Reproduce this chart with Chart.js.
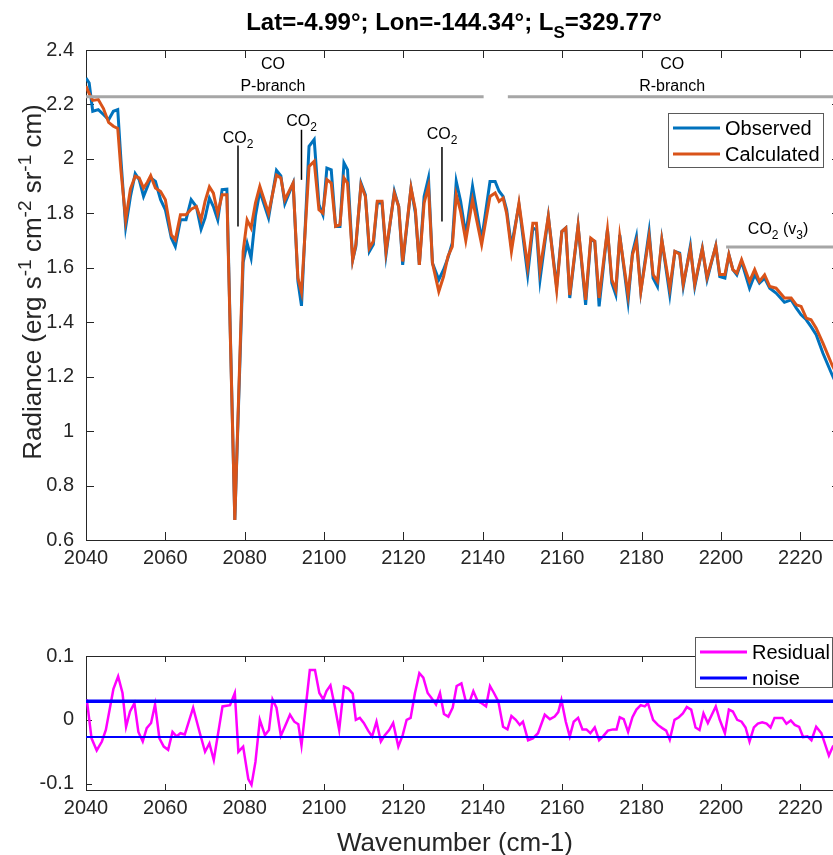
<!DOCTYPE html>
<html><head><meta charset="utf-8">
<script src="https://cdn.jsdelivr.net/npm/chart.js@4"></script>
<style>
html,body{margin:0;padding:0;background:#fff;overflow:hidden;width:833px;height:855px;position:relative;}
#topChart{position:absolute;left:0;top:0;}
#botChart{position:absolute;left:0;top:600px;}
</style></head><body>
<canvas id="topChart" width="845" height="580"></canvas>
<canvas id="botChart" width="845" height="255"></canvas>
<script>
// ---------- data ----------
const wavenumber = [
 2040.0, 2040.8, 2041.7, 2043.1, 2044.4, 2045.7, 2046.9, 2048.0, 2048.8, 2050.0,
 2051.2, 2052.4, 2053.4, 2054.5, 2055.5, 2056.3, 2057.5, 2058.8, 2060.0, 2061.5,
 2062.5, 2063.8, 2065.2, 2066.5, 2067.8, 2069.0, 2070.0, 2071.1, 2072.1, 2073.2,
 2074.3, 2075.5, 2077.5, 2079.6, 2080.6, 2081.6, 2082.7, 2083.8, 2086.0, 2088.0,
 2089.1, 2090.1, 2092.2, 2093.4, 2094.3, 2096.2, 2097.5, 2098.7, 2099.7, 2100.7,
 2101.8, 2102.9, 2104.0, 2105.0, 2105.9, 2107.2, 2108.0, 2109.3, 2110.4, 2111.4,
 2112.4, 2113.4, 2114.6, 2115.6, 2117.7, 2118.8, 2119.8, 2121.9, 2123.0, 2124.0,
 2125.2, 2126.3, 2127.3, 2128.9, 2130.1, 2131.2, 2132.3, 2133.3, 2134.4, 2135.7,
 2137.4, 2139.7, 2141.8, 2143.1, 2144.1, 2145.1, 2146.0, 2147.2, 2149.1, 2151.3,
 2152.6, 2153.5, 2154.4, 2156.5, 2158.6, 2159.9, 2160.9, 2161.9, 2164.0, 2165.9,
 2167.2, 2168.2, 2169.3, 2171.4, 2172.5, 2173.5, 2174.5, 2176.6, 2177.7, 2178.7,
 2179.8, 2181.9, 2182.9, 2184.0, 2185.1, 2187.1, 2188.4, 2189.6, 2190.5, 2192.3,
 2193.4, 2195.3, 2196.5, 2198.7, 2199.7, 2201.0, 2202.0, 2203.0, 2204.0, 2205.2,
 2207.2, 2208.5, 2209.7, 2211.0, 2212.3, 2213.9, 2216.0, 2217.7, 2219.0, 2220.2,
 2221.5, 2222.7, 2224.0, 2225.7, 2228.0, 2229.5
];
const observed = [
 2.297, 2.279, 2.175, 2.181, 2.163, 2.144, 2.175, 2.181, 1.997, 1.750,
 1.862, 1.946, 1.924, 1.862, 1.899, 1.930, 1.917, 1.850, 1.813, 1.709,
 1.678, 1.776, 1.776, 1.850, 1.825, 1.742, 1.783, 1.856, 1.825, 1.776,
 1.887, 1.889, 0.674, 1.620, 1.690, 1.636, 1.790, 1.881, 1.783, 1.958,
 1.938, 1.835, 1.911, 1.550, 1.460, 2.046, 2.071, 1.832, 1.795, 1.966,
 1.960, 1.752, 1.752, 1.985, 1.960, 1.629, 1.678, 1.911, 1.868, 1.660,
 1.685, 1.838, 1.838, 1.648, 1.881, 1.825, 1.611, 1.893, 1.801, 1.611,
 1.862, 1.930, 1.617, 1.556, 1.593, 1.636, 1.691, 1.917, 1.844, 1.721,
 1.899, 1.703, 1.917, 1.917, 1.881, 1.862, 1.813, 1.678, 1.832, 1.574,
 1.746, 1.740, 1.556, 1.789, 1.531, 1.733, 1.746, 1.489, 1.754, 1.464,
 1.703, 1.697, 1.458, 1.740, 1.544, 1.501, 1.721, 1.476, 1.654, 1.715,
 1.513, 1.733, 1.562, 1.531, 1.703, 1.501, 1.660, 1.654, 1.531, 1.681,
 1.531, 1.672, 1.556, 1.681, 1.568, 1.562, 1.648, 1.593, 1.574, 1.623,
 1.525, 1.574, 1.544, 1.562, 1.525, 1.507, 1.473, 1.482, 1.452, 1.427,
 1.409, 1.384, 1.354, 1.286, 1.207, 1.160
];
const calculated = [
 2.267, 2.240, 2.215, 2.218, 2.185, 2.134, 2.120, 2.112, 1.960, 1.776,
 1.890, 1.936, 1.930, 1.893, 1.915, 1.938, 1.893, 1.880, 1.850, 1.721,
 1.703, 1.795, 1.795, 1.815, 1.825, 1.776, 1.844, 1.897, 1.874, 1.800,
 1.868, 1.868, 0.674, 1.660, 1.776, 1.746, 1.838, 1.899, 1.800, 1.940,
 1.930, 1.850, 1.911, 1.562, 1.510, 1.972, 1.991, 1.813, 1.801, 1.924,
 1.911, 1.752, 1.758, 1.930, 1.911, 1.629, 1.685, 1.905, 1.862, 1.672,
 1.697, 1.844, 1.844, 1.660, 1.874, 1.825, 1.623, 1.893, 1.813, 1.611,
 1.838, 1.899, 1.617, 1.513, 1.568, 1.642, 1.678, 1.868, 1.807, 1.700,
 1.850, 1.685, 1.862, 1.875, 1.844, 1.856, 1.800, 1.660, 1.838, 1.605,
 1.764, 1.764, 1.593, 1.789, 1.519, 1.733, 1.746, 1.500, 1.754, 1.482,
 1.709, 1.697, 1.489, 1.740, 1.556, 1.519, 1.715, 1.501, 1.648, 1.697,
 1.513, 1.715, 1.575, 1.550, 1.703, 1.525, 1.660, 1.650, 1.540, 1.670,
 1.540, 1.670, 1.565, 1.680, 1.575, 1.575, 1.648, 1.593, 1.580, 1.630,
 1.550, 1.593, 1.550, 1.574, 1.531, 1.525, 1.489, 1.489, 1.464, 1.458,
 1.415, 1.409, 1.378, 1.323, 1.243, 1.200
];
const residualWavenumber = [
 2040.2, 2041.4, 2042.7, 2044.0, 2045.0, 2046.9, 2048.1, 2049.2, 2050.1, 2051.1,
 2052.2, 2053.2, 2054.3, 2055.3, 2056.4, 2057.4, 2058.5, 2059.6, 2060.7, 2061.8,
 2062.8, 2063.8, 2064.9, 2067.0, 2068.7, 2070.0, 2071.1, 2072.2, 2074.4, 2076.3,
 2077.5, 2078.4, 2079.6, 2080.9, 2081.7, 2082.7, 2083.8, 2085.1, 2086.1, 2087.0,
 2088.0, 2089.1, 2090.1, 2091.4, 2092.5, 2093.5, 2094.3, 2096.4, 2097.7, 2098.8,
 2099.8, 2100.6, 2101.6, 2102.7, 2103.8, 2105.0, 2106.1, 2107.2, 2108.0, 2109.0,
 2110.0, 2111.1, 2112.1, 2113.2, 2114.3, 2115.3, 2116.4, 2117.4, 2118.7, 2119.8,
 2120.8, 2121.8, 2122.9, 2124.0, 2125.0, 2126.1, 2127.1, 2128.2, 2129.2, 2130.2,
 2131.3, 2132.4, 2133.4, 2134.6, 2135.7, 2136.7, 2137.6, 2138.7, 2139.7, 2140.8,
 2141.8, 2142.8, 2143.9, 2145.1, 2146.2, 2147.2, 2148.3, 2149.3, 2150.1, 2151.4,
 2152.6, 2153.9, 2155.6, 2156.9, 2158.1, 2159.0, 2159.8, 2160.9, 2161.9, 2162.9,
 2164.0, 2165.1, 2166.1, 2167.1, 2168.2, 2169.3, 2170.3, 2171.5, 2172.8, 2173.7,
 2174.5, 2175.5, 2176.6, 2177.7, 2178.7, 2179.8, 2180.8, 2181.6, 2182.9, 2184.1,
 2185.2, 2186.2, 2187.1, 2188.3, 2189.4, 2190.4, 2191.4, 2192.5, 2193.6, 2194.6,
 2195.6, 2196.7, 2198.7, 2199.7, 2201.0, 2202.0, 2203.0, 2204.1, 2205.2, 2206.2,
 2207.2, 2208.3, 2209.3, 2210.4, 2211.5, 2212.5, 2213.5, 2215.5, 2216.5, 2217.6,
 2218.6, 2219.7, 2220.7, 2221.8, 2222.8, 2224.0, 2225.3, 2227.2, 2228.2, 2229.5
];
const residual = [
 0.032, -0.029, -0.048, -0.034, -0.016, 0.048, 0.068, 0.042, -0.011, 0.013,
 0.026, -0.019, -0.034, -0.013, -0.005, 0.024, -0.029, -0.042, -0.047, -0.019,
 -0.026, -0.021, -0.023, 0.019, -0.021, -0.050, -0.037, -0.063, 0.021, 0.023,
 0.042, -0.050, -0.042, -0.093, -0.102, -0.066, 0.000, -0.024, -0.016, 0.032,
 0.019, -0.025, -0.011, 0.008, -0.003, -0.007, -0.040, 0.078, 0.078, 0.042,
 0.032, 0.045, 0.054, 0.021, -0.016, 0.052, 0.049, 0.041, 0.000, 0.003,
 -0.005, -0.017, -0.026, -0.003, -0.034, -0.024, -0.016, -0.005, -0.042, -0.024,
 0.000, 0.003, 0.042, 0.073, 0.066, 0.042, 0.034, 0.024, 0.042, 0.009,
 0.005, 0.019, 0.053, 0.057, 0.029, 0.029, 0.045, 0.029, 0.026, 0.021,
 0.053, 0.042, 0.029, -0.011, -0.015, 0.006, 0.000, -0.008, -0.003, -0.032,
 -0.029, -0.021, 0.008, 0.001, 0.005, 0.012, 0.031, -0.003, -0.026, -0.003,
 0.003, -0.015, -0.015, -0.021, -0.012, -0.032, -0.026, -0.017, -0.015, -0.015,
 0.004, 0.001, -0.019, 0.004, 0.016, 0.023, 0.021, 0.026, 0.000, -0.008,
 -0.013, -0.017, -0.031, 0.000, 0.004, 0.010, 0.020, 0.016, -0.012, -0.016,
 0.010, -0.005, 0.021, 0.000, -0.021, 0.016, 0.013, 0.000, -0.003, -0.012,
 -0.034, -0.012, -0.006, -0.004, -0.006, -0.012, 0.003, 0.003, -0.006, -0.001,
 -0.008, -0.011, -0.027, -0.026, -0.032, -0.011, -0.021, -0.056, -0.042, -0.035
];
const noiseLevels = [0.029, -0.027];
const xRange = [2040, 2230];
const xTicks = [2040, 2060, 2080, 2100, 2120, 2140, 2160, 2180, 2200, 2220];
const yTicksTop = [0.6, 0.8, 1.0, 1.2, 1.4, 1.6, 1.8, 2.0, 2.2, 2.4];
const yTicksBottom = [-0.1, 0, 0.1];

// annotations (data coordinates)
const branchBars = [[2040, 2140.2, 2.228], [2146.3, 2230, 2.228], [2201.3, 2230, 1.676]];
const branchLabels = [[2087.1, 2.354, 'CO'], [2087.1, 2.273, 'P-branch'], [2187.7, 2.354, 'CO'], [2187.7, 2.273, 'R-branch']];
const co2Marks = [[2078.3, 1.752, 2.049, 2.082], [2094.3, 1.923, 2.107, 2.144], [2129.7, 1.770, 2.044, 2.096]];
const co2v3Label = [2214.4, 1.747];

// ---------- helpers ----------
const FONT = '"Liberation Sans", Arial, Helvetica, sans-serif';
const AXIS = '#262626';
const fmt = v => String(+v.toFixed(2));

function drawRich(ctx, parts, x, y, size, bold, align) {
  const f = m => (bold ? 'bold ' : '') + (m ? Math.round(size * 0.72) : size) + 'px ' + FONT;
  let total = 0;
  parts.forEach(p => { ctx.font = f(p[1]); total += ctx.measureText(p[0]).width; });
  let cx = align === 'center' ? x - total / 2 : x;
  ctx.textAlign = 'left';
  ctx.textBaseline = 'alphabetic';
  parts.forEach(p => {
    ctx.font = f(p[1]);
    const dy = p[1] === 1 ? size * 0.32 : (p[1] === 2 ? -size * 0.4 : 0);
    ctx.fillText(p[0], cx, y + dy);
    cx += ctx.measureText(p[0]).width;
  });
}

function framePlugin(tickLen) {
  return {
    id: 'frame' + tickLen,
    beforeDatasetsDraw(chart) {
      const {ctx, chartArea: a, scales} = chart;
      ctx.save();
      ctx.strokeStyle = AXIS;
      ctx.lineWidth = 1;
      ctx.strokeRect(Math.round(a.left) + 0.5, Math.round(a.top) + 0.5, Math.round(a.right - a.left), Math.round(a.bottom - a.top));
      ctx.beginPath();
      scales.x.ticks.forEach(t => {
        const px = Math.round(scales.x.getPixelForValue(t.value)) + 0.5;
        ctx.moveTo(px, a.bottom); ctx.lineTo(px, a.bottom - tickLen);
        ctx.moveTo(px, a.top); ctx.lineTo(px, a.top + tickLen);
      });
      scales.y.ticks.forEach(t => {
        const py = Math.round(scales.y.getPixelForValue(t.value)) + 0.5;
        ctx.moveTo(a.left, py); ctx.lineTo(a.left + tickLen, py);
        ctx.moveTo(a.right, py); ctx.lineTo(a.right - tickLen, py);
      });
      ctx.stroke();
      ctx.restore();
    }
  };
}

function legendBox(ctx, box, items) {
  ctx.save();
  ctx.fillStyle = '#fff';
  ctx.fillRect(box.l, box.t, box.r - box.l, box.b - box.t);
  ctx.strokeStyle = '#5a5a5a';
  ctx.lineWidth = 1;
  ctx.strokeRect(box.l + 0.5, box.t + 0.5, box.r - box.l, box.b - box.t);
  items.forEach((it, i) => {
    const y = box.t + 15 + i * 26;
    ctx.strokeStyle = it.color; ctx.lineWidth = 3;
    ctx.beginPath(); ctx.moveTo(box.l + 5, y); ctx.lineTo(box.l + 52, y); ctx.stroke();
    ctx.fillStyle = '#000';
    ctx.font = '20px ' + FONT;
    ctx.textAlign = 'left'; ctx.textBaseline = 'middle';
    ctx.fillText(it.label, box.l + 57, y + 1);
  });
  ctx.restore();
}

const commonScaleX = {
  type: 'linear', min: xRange[0], max: xRange[1],
  afterBuildTicks: s => { s.ticks = xTicks.map(v => ({value: v})); },
  grid: {display: false, drawTicks: false},
  border: {display: false},
  ticks: {font: {family: FONT, size: 20}, color: AXIS, padding: 6, maxRotation: 0, autoSkip: false, callback: v => String(v)}
};

// ---------- top chart ----------
const topAnnotations = {
  id: 'topAnn',
  afterDatasetsDraw(chart) {
    const {ctx, scales: {x, y}} = chart;
    ctx.save();
    ctx.strokeStyle = '#a6a6a6'; ctx.lineWidth = 3;
    branchBars.forEach(b => {
      ctx.beginPath();
      ctx.moveTo(x.getPixelForValue(b[0]), y.getPixelForValue(b[2]));
      ctx.lineTo(x.getPixelForValue(b[1]), y.getPixelForValue(b[2]));
      ctx.stroke();
    });
    ctx.fillStyle = '#000';
    branchLabels.forEach(l => {
      drawRich(ctx, [[l[2], 0]], x.getPixelForValue(l[0]), y.getPixelForValue(l[1]) + 6, 16, false, 'center');
    });
    ctx.strokeStyle = '#000'; ctx.lineWidth = 1.5;
    co2Marks.forEach(m => {
      const px = x.getPixelForValue(m[0]);
      ctx.beginPath();
      ctx.moveTo(px, y.getPixelForValue(m[1]));
      ctx.lineTo(px, y.getPixelForValue(m[2]));
      ctx.stroke();
      drawRich(ctx, [['CO', 0], ['2', 1]], px, y.getPixelForValue(m[3]) + 6, 16, false, 'center');
    });
    drawRich(ctx, [['CO', 0], ['2', 1], [' (v', 0], ['3', 1], [')', 0]], x.getPixelForValue(co2v3Label[0]), y.getPixelForValue(co2v3Label[1]) + 6, 16, false, 'center');
    ctx.restore();
  },
  afterDraw(chart) {
    const {ctx} = chart;
    ctx.save();
    ctx.fillStyle = '#000';
    drawRich(ctx, [['Lat=-4.99°; Lon=-144.34°; L', 0], ['S', 1], ['=329.77°', 0]], 454, 30, 24, true, 'center');
    ctx.translate(41, 282);
    ctx.rotate(-Math.PI / 2);
    ctx.fillStyle = '#262626';
    drawRich(ctx, [['Radiance (erg s', 0], ['-1', 2], [' cm', 0], ['-2', 2], [' sr', 0], ['-1', 2], [' cm)', 0]], 0, 0, 26, false, 'center');
    ctx.restore();
    legendBox(ctx, {l: 668, t: 113, r: 823, b: 167}, [{label: 'Observed', color: '#0072BD'}, {label: 'Calculated', color: '#D95319'}]);
  }
};

new Chart(document.getElementById('topChart'), {
  type: 'line',
  data: {datasets: [
    {label: 'Observed', data: wavenumber.map((w, i) => ({x: w, y: observed[i]})), borderColor: '#0072BD', borderWidth: 3, pointRadius: 0, tension: 0, fill: false, order: 2},
    {label: 'Calculated', data: wavenumber.map((w, i) => ({x: w, y: calculated[i]})), borderColor: '#D95319', borderWidth: 3, pointRadius: 0, tension: 0, fill: false, order: 1}
  ]},
  options: {
    responsive: false, animation: false, devicePixelRatio: 1,
    layout: {padding: {top: 50, right: 5, left: 0, bottom: 0}},
    plugins: {legend: {display: false}, tooltip: {enabled: false}},
    scales: {
      x: Object.assign({}, commonScaleX, {afterFit: s => { s.height = 40; }}),
      y: {
        type: 'linear', min: 0.6, max: 2.4,
        afterBuildTicks: s => { s.ticks = yTicksTop.map(v => ({value: v})); },
        afterFit: s => { s.width = 86; },
        grid: {display: false, drawTicks: false}, border: {display: false},
        ticks: {font: {family: FONT, size: 20}, color: AXIS, padding: 12, callback: v => fmt(v)}
      }
    }
  },
  plugins: [framePlugin(8), topAnnotations]
});

// ---------- bottom chart ----------
const botAnnotations = {
  id: 'botAnn',
  afterDraw(chart) {
    const {ctx} = chart;
    ctx.save();
    ctx.fillStyle = '#262626';
    drawRich(ctx, [['Wavenumber (cm-1)', 0]], 455, 251, 26, false, 'center');
    ctx.restore();
    legendBox(ctx, {l: 695, t: 37, r: 832, b: 87}, [{label: 'Residual', color: '#FF00FF'}, {label: 'noise', color: '#0000FF'}]);
  }
};

new Chart(document.getElementById('botChart'), {
  type: 'line',
  data: {datasets: [
    {label: 'Residual', data: residualWavenumber.map((w, i) => ({x: w, y: residual[i]})), borderColor: '#FF00FF', borderWidth: 2.5, pointRadius: 0, tension: 0, fill: false, order: 2},
    {label: 'noise', data: xRange.map(w => ({x: w, y: noiseLevels[0]})), borderColor: '#0000FF', borderWidth: 3.5, pointRadius: 0, fill: false, order: 1},
    {label: 'noise-', data: xRange.map(w => ({x: w, y: noiseLevels[1]})), borderColor: '#0000FF', borderWidth: 2, pointRadius: 0, fill: false, order: 1}
  ]},
  options: {
    responsive: false, animation: false, devicePixelRatio: 1,
    layout: {padding: {top: 56, right: 5, left: 0, bottom: 0}},
    plugins: {legend: {display: false}, tooltip: {enabled: false}},
    scales: {
      x: Object.assign({}, commonScaleX, {afterFit: s => { s.height = 65; }}),
      y: {
        type: 'linear', min: -0.11, max: 0.1,
        afterBuildTicks: s => { s.ticks = yTicksBottom.map(v => ({value: v})); },
        afterFit: s => { s.width = 86; },
        grid: {display: false, drawTicks: false}, border: {display: false},
        ticks: {font: {family: FONT, size: 20}, color: AXIS, padding: 12, callback: v => fmt(v)}
      }
    }
  },
  plugins: [framePlugin(6), botAnnotations]
});
</script>
</body></html>
